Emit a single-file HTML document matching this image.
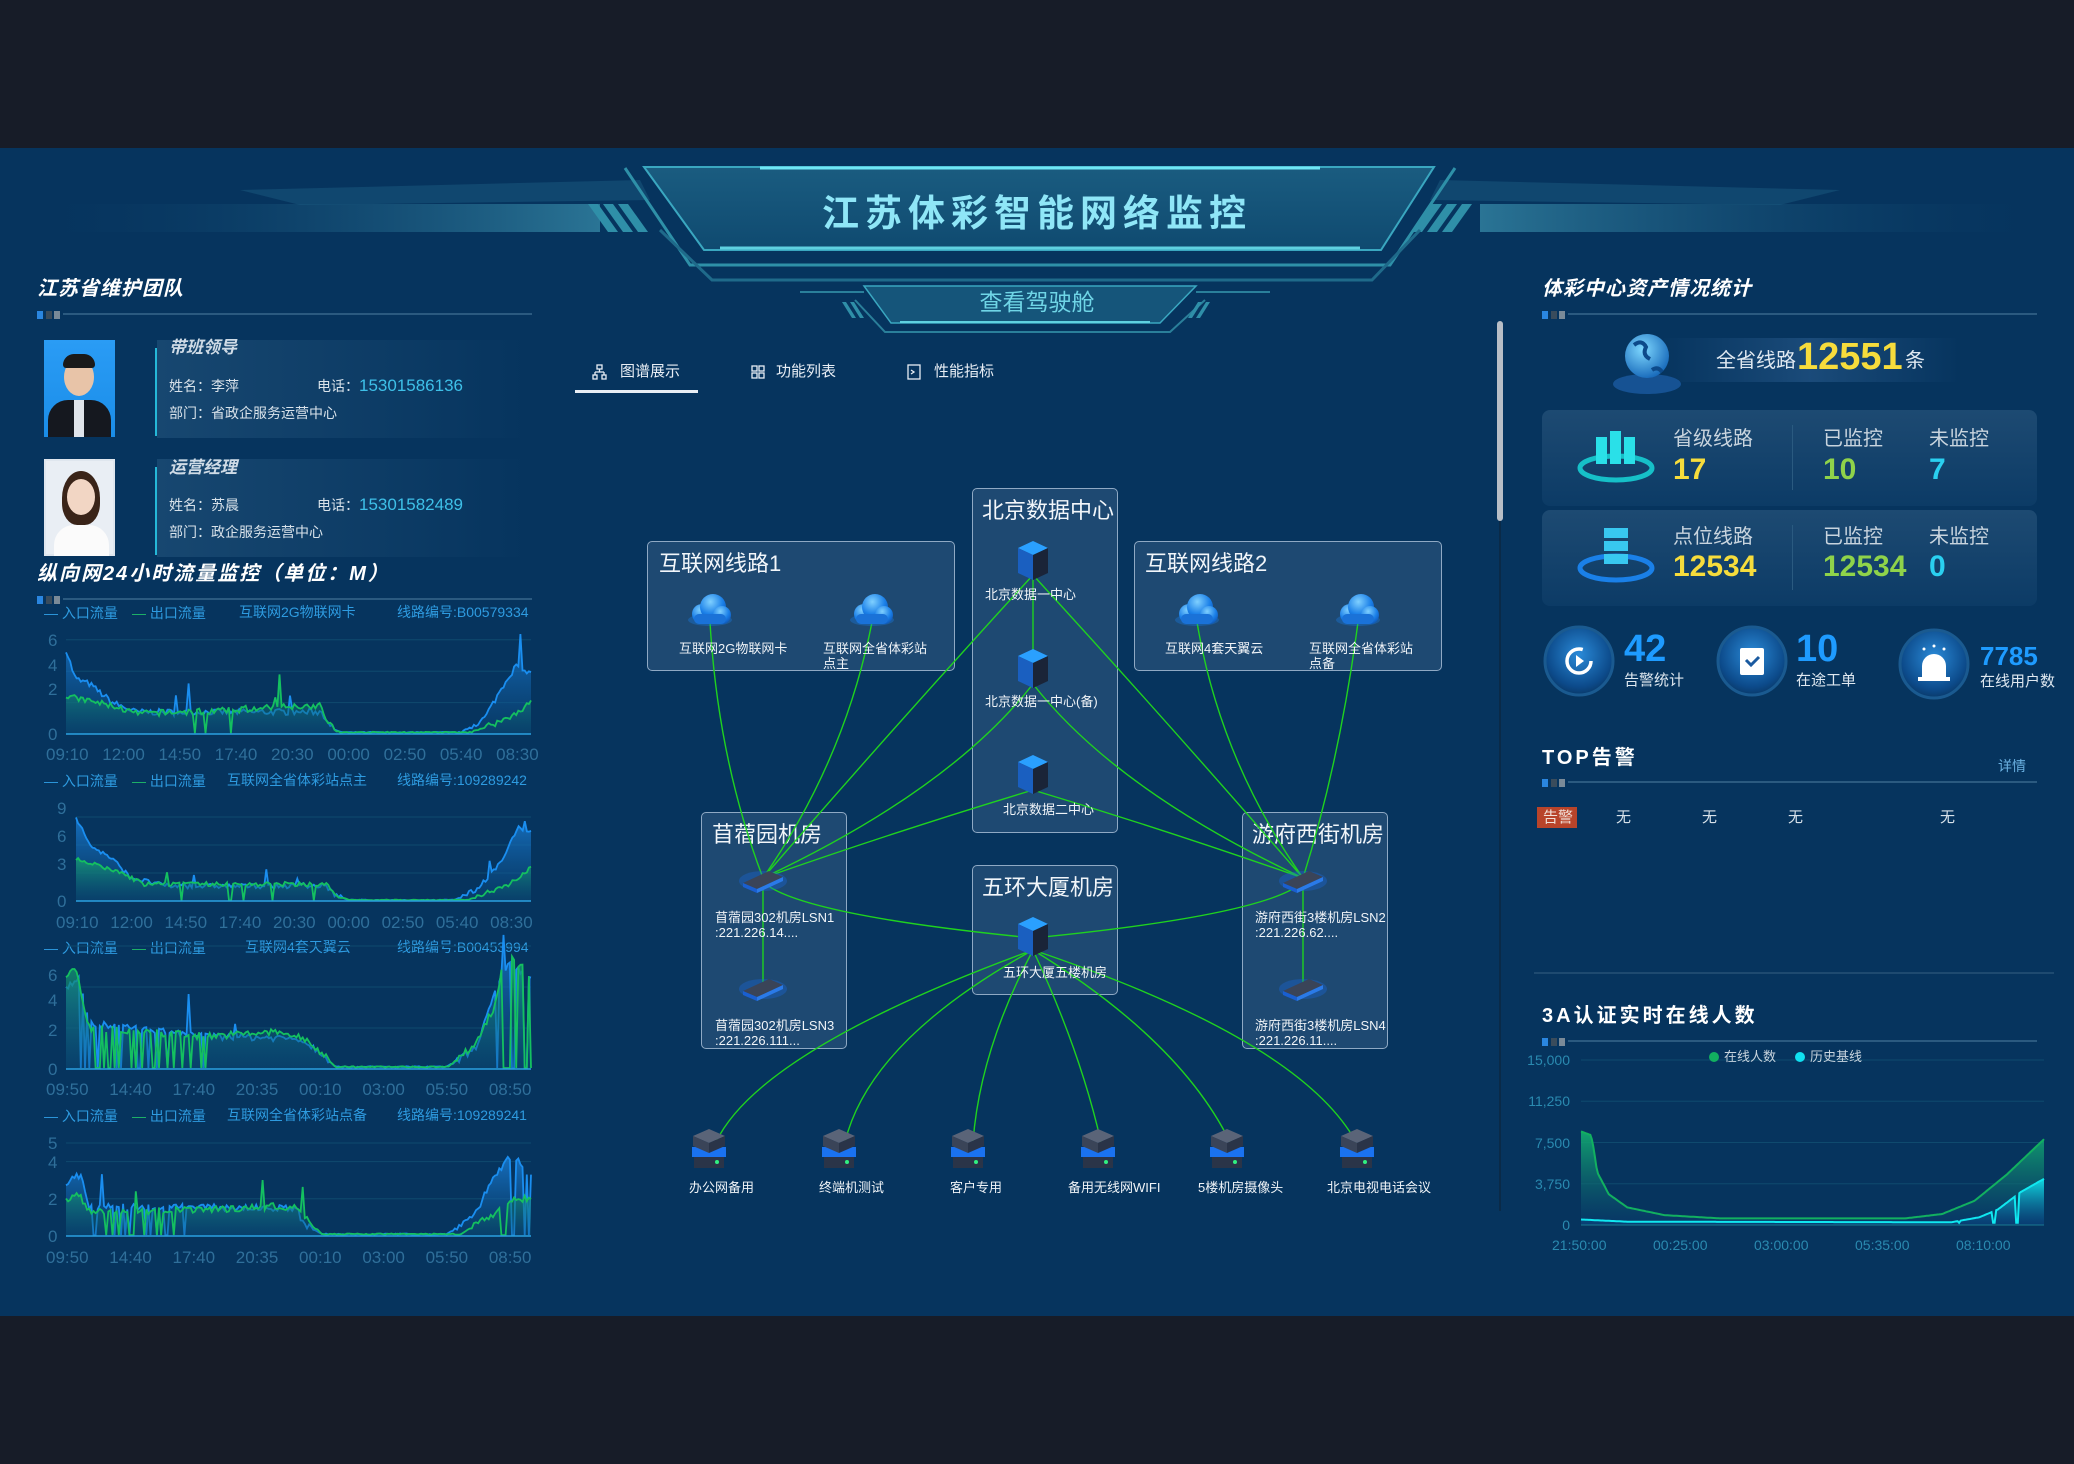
<!DOCTYPE html>
<html><head><meta charset="utf-8">
<style>
*{margin:0;padding:0;box-sizing:border-box}
body{width:2074px;height:1464px;background:#171c28;overflow:hidden;position:relative;font-family:"Liberation Sans","Noto Sans CJK SC",sans-serif;color:#e8eef5}
#main{position:absolute;left:0;top:148px;width:2074px;height:1168px;background:#06345e}
.t{position:absolute;white-space:nowrap;line-height:1}
.h{font-weight:bold;font-size:20px;color:#fff;font-style:italic;letter-spacing:1px}
.bar{position:absolute;height:12px}
.bar .ln{position:absolute;left:26px;right:0;top:4px;height:2px;background:#2b5a80}
.bar .d{position:absolute;top:2px;width:6px;height:8px}
.box{position:absolute;border:1.5px solid #8fa9c4;border-radius:5px;background:rgba(60,100,140,0.45)}
.bt{position:absolute;font-size:22px;color:#f2f6fa;white-space:nowrap}
.nl{position:absolute;font-size:13px;color:#f0f4f8;white-space:nowrap;line-height:15px}
.card{position:absolute;left:1542px;width:495px;height:96px;border-radius:8px;background:linear-gradient(180deg,#1d4a72,#0c3b66);}
.lg{position:absolute;font-size:14px;color:#2e9be0;white-space:nowrap;line-height:1}
.ax{position:absolute;font-size:17px;color:#2f6f9a;white-space:nowrap;line-height:1}
</style></head><body>
<div id="main"></div>
<svg width="2074" height="1464" style="position:absolute;left:0;top:0">
<defs>
<linearGradient id="hb" x1="0" y1="0" x2="0" y2="1"><stop offset="0" stop-color="#1a5c80"/><stop offset="1" stop-color="#0f4a70"/></linearGradient>
<linearGradient id="sideL" x1="0" y1="0" x2="1" y2="0"><stop offset="0" stop-color="#0a3c66" stop-opacity="0"/><stop offset="1" stop-color="#2a7495"/></linearGradient>
<linearGradient id="sideR" x1="1" y1="0" x2="0" y2="0"><stop offset="0" stop-color="#0a3c66" stop-opacity="0"/><stop offset="1" stop-color="#2a7495"/></linearGradient>
</defs>
<rect x="40" y="204" width="560" height="28" fill="url(#sideL)"/>
<rect x="1480" y="204" width="560" height="28" fill="url(#sideR)"/>
<polygon points="240,190 640,180 650,200 300,205" fill="#1a5a80" opacity="0.5"/>
<polygon points="1440,180 1840,190 1780,205 1430,200" fill="#1a5a80" opacity="0.5"/>
<g fill="#2f8fa8">
<polygon points="588,204 598,204 618,232 608,232"/><polygon points="603,204 613,204 633,232 623,232"/><polygon points="618,204 628,204 648,232 638,232"/>
<polygon points="1432,204 1442,204 1422,232 1412,232"/><polygon points="1447,204 1457,204 1437,232 1427,232"/><polygon points="1462,204 1472,204 1452,232 1442,232"/>
</g>
<polygon points="644,167 1434,167 1381,250 704,250" fill="url(#hb)" stroke="#3aa7c0" stroke-width="2"/>
<line x1="760" y1="168" x2="1320" y2="168" stroke="#6fe6f5" stroke-width="3"/>
<line x1="720" y1="248" x2="1360" y2="248" stroke="#5fd0e0" stroke-width="3"/>
<polyline points="625,168 690,265 1390,265 1455,168" fill="none" stroke="#2e90a8" stroke-width="3"/>
<polyline points="660,230 712,280 1372,280 1420,230" fill="none" stroke="#1f6a8a" stroke-width="3"/>
<polygon points="864,286 1196,286 1160,323 891,323" fill="#15557a" stroke="#3aa7c0" stroke-width="1.5"/>
<line x1="900" y1="322" x2="1150" y2="322" stroke="#5fd0e0" stroke-width="2"/>
<polyline points="855,300 885,332 1170,332 1205,300" fill="none" stroke="#2a7f9a" stroke-width="2"/>
<line x1="800" y1="292" x2="864" y2="292" stroke="#2a7f9a" stroke-width="2"/>
<line x1="1196" y1="292" x2="1270" y2="292" stroke="#2a7f9a" stroke-width="2"/>
<g fill="#2f8fa8"><polygon points="842,302 846,302 856,318 852,318"/><polygon points="850,302 854,302 864,318 860,318"/><polygon points="1198,302 1202,302 1192,318 1188,318"/><polygon points="1206,302 1210,302 1200,318 1196,318"/></g>
</svg>
<div class="t" style="left:0;width:2074px;top:195px;text-align:center;font-size:37px;color:#8fe6f7;letter-spacing:6px;font-weight:bold">江苏体彩智能网络监控</div>
<div class="t" style="left:0;width:2074px;top:291px;text-align:center;font-size:23px;color:#6fd5e6">查看驾驶舱</div>

<div class="t h" style="left:37px;top:279px">江苏省维护团队</div>
<div class="bar" style="left:37px;top:309px;width:495px"><div class="d" style="left:0;background:#2a86e0"></div><div class="d" style="left:9px;background:#3a4c5c"></div><div class="d" style="left:17px;background:#7a8a98"></div><div class="ln"></div></div>
<div style="position:absolute;left:44px;top:340px;width:71px;height:97px;background:linear-gradient(#2a9cf5,#1a8de8)">
 <div style="position:absolute;left:20px;top:18px;width:30px;height:38px;border-radius:50%;background:#e8c4a8"></div>
 <div style="position:absolute;left:19px;top:14px;width:32px;height:14px;border-radius:14px 14px 4px 4px;background:#1a1a1a"></div>
 <div style="position:absolute;left:4px;top:60px;width:63px;height:37px;border-radius:20px 20px 0 0;background:#15181f"></div>
 <div style="position:absolute;left:30px;top:60px;width:10px;height:37px;background:#e0e4ea"></div>
</div>
<div style="position:absolute;left:44px;top:459px;width:71px;height:97px;background:#e9eef4;border:2px solid #dfe6ee">
 <div style="position:absolute;left:16px;top:10px;width:38px;height:54px;border-radius:50% 50% 40% 40%;background:#3a2418"></div>
 <div style="position:absolute;left:21px;top:18px;width:28px;height:36px;border-radius:50%;background:#f2d6c4"></div>
 <div style="position:absolute;left:8px;top:64px;width:55px;height:31px;border-radius:20px 20px 0 0;background:#fbfbfb"></div>
</div>
<div style="position:absolute;left:155px;top:348px;width:2px;height:88px;background:#25b8d8"></div>
<div style="position:absolute;left:157px;top:340px;width:375px;height:98px;background:linear-gradient(90deg,rgba(40,90,130,0.5),rgba(40,90,130,0))"></div>
<div style="position:absolute;left:155px;top:467px;width:2px;height:88px;background:#25b8d8"></div>
<div style="position:absolute;left:157px;top:459px;width:375px;height:98px;background:linear-gradient(90deg,rgba(40,90,130,0.5),rgba(40,90,130,0))"></div>
<div class="t" style="left:169px;top:339px;font-size:17px;font-weight:bold;font-style:italic;color:#cfdbe6">带班领导</div>
<div class="t" style="left:169px;top:379px;font-size:14px;color:#d8e2ea">姓名：李萍</div>
<div class="t" style="left:317px;top:377px;font-size:14px;color:#d8e2ea">电话：<span style="font-size:17px;color:#3ec0e8">15301586136</span></div>
<div class="t" style="left:169px;top:406px;font-size:14px;color:#d8e2ea">部门：省政企服务运营中心</div>
<div class="t" style="left:169px;top:459px;font-size:17px;font-weight:bold;font-style:italic;color:#cfdbe6">运营经理</div>
<div class="t" style="left:169px;top:498px;font-size:14px;color:#d8e2ea">姓名：苏晨</div>
<div class="t" style="left:317px;top:496px;font-size:14px;color:#d8e2ea">电话：<span style="font-size:17px;color:#3ec0e8">15301582489</span></div>
<div class="t" style="left:169px;top:525px;font-size:14px;color:#d8e2ea">部门：政企服务运营中心</div>
<div class="t h" style="left:37px;top:564px;letter-spacing:2px">纵向网24小时流量监控（单位：M）</div>
<div class="bar" style="left:37px;top:594px;width:495px"><div class="d" style="left:0;background:#2a86e0"></div><div class="d" style="left:9px;background:#3a4c5c"></div><div class="d" style="left:17px;background:#7a8a98"></div><div class="ln"></div></div>

<div class="lg" style="left:44px;top:606px">— 入口流量</div><div class="lg" style="left:132px;top:606px;color:#1fb868">— <span style="color:#2e9be0">出口流量</span></div><div class="lg" style="left:239px;top:605px">互联网2G物联网卡</div><div class="lg" style="left:397px;top:605px">线路编号:B00579334</div>
<div class="lg" style="left:44px;top:774px">— 入口流量</div><div class="lg" style="left:132px;top:774px;color:#1fb868">— <span style="color:#2e9be0">出口流量</span></div><div class="lg" style="left:227px;top:773px">互联网全省体彩站点主</div><div class="lg" style="left:397px;top:773px">线路编号:109289242</div>
<div class="lg" style="left:44px;top:941px">— 入口流量</div><div class="lg" style="left:132px;top:941px;color:#1fb868">— <span style="color:#2e9be0">出口流量</span></div><div class="lg" style="left:245px;top:940px">互联网4套天翼云</div><div class="lg" style="left:397px;top:940px">线路编号:B00453994</div>
<div class="lg" style="left:44px;top:1109px">— 入口流量</div><div class="lg" style="left:132px;top:1109px;color:#1fb868">— <span style="color:#2e9be0">出口流量</span></div><div class="lg" style="left:227px;top:1108px">互联网全省体彩站点备</div><div class="lg" style="left:397px;top:1108px">线路编号:109289241</div>

<div class="ax" style="left:48px;top:632px">6</div><div class="ax" style="left:48px;top:657px">4</div><div class="ax" style="left:48px;top:681px">2</div><div class="ax" style="left:48px;top:726px">0</div>
<div class="ax" style="left:57px;top:800px">9</div><div class="ax" style="left:57px;top:828px">6</div><div class="ax" style="left:57px;top:856px">3</div><div class="ax" style="left:57px;top:893px">0</div>
<div class="ax" style="left:48px;top:967px">6</div><div class="ax" style="left:48px;top:992px">4</div><div class="ax" style="left:48px;top:1022px">2</div><div class="ax" style="left:48px;top:1061px">0</div>
<div class="ax" style="left:48px;top:1135px">5</div><div class="ax" style="left:48px;top:1154px">4</div><div class="ax" style="left:48px;top:1191px">2</div><div class="ax" style="left:48px;top:1228px">0</div>
<div class="ax" style="left:46px;top:746px;word-spacing:9px">09:10 12:00 14:50 17:40 20:30 00:00 02:50 05:40 08:30</div>
<div class="ax" style="left:56px;top:914px;word-spacing:7px">09:10 12:00 14:50 17:40 20:30 00:00 02:50 05:40 08:30</div>
<div class="ax" style="left:46px;top:1081px;word-spacing:16px">09:50 14:40 17:40 20:35 00:10 03:00 05:50 08:50</div>
<div class="ax" style="left:46px;top:1249px;word-spacing:16px">09:50 14:40 17:40 20:35 00:10 03:00 05:50 08:50</div>

<svg id="charts" width="2074" height="1464" style="position:absolute;left:0;top:0">
<defs>
<linearGradient id="gb" x1="0" y1="0" x2="0" y2="1"><stop offset="0" stop-color="#1a7fd8" stop-opacity="0.8"/><stop offset="1" stop-color="#0b4a80" stop-opacity="0.3"/></linearGradient>
<linearGradient id="gg" x1="0" y1="0" x2="0" y2="1"><stop offset="0" stop-color="#16a070" stop-opacity="0.8"/><stop offset="1" stop-color="#0a4a70" stop-opacity="0.3"/></linearGradient>
<linearGradient id="rg" x1="0" y1="0" x2="0" y2="1"><stop offset="0" stop-color="#12b070" stop-opacity="0.9"/><stop offset="1" stop-color="#0a3a70" stop-opacity="0.4"/></linearGradient>
<linearGradient id="rc" x1="0" y1="0" x2="0" y2="1"><stop offset="0" stop-color="#10e8f0" stop-opacity="0.9"/><stop offset="1" stop-color="#0a4a90" stop-opacity="0.3"/></linearGradient>
</defs>
</svg>

<svg width="2074" height="1464" style="position:absolute;left:0;top:0">
<g fill="none" stroke="#e8eef5" stroke-width="1.3">
<rect x="597" y="365" width="5" height="4"/><rect x="593" y="375" width="4" height="4"/><rect x="602" y="375" width="4" height="4"/><path d="M599.5 369v3M595 372h9M595 372v3M604 372v3"/>
<rect x="752" y="366" width="5" height="5"/><rect x="759" y="366" width="5" height="5"/><rect x="752" y="373" width="5" height="5"/><rect x="759" y="373" width="5" height="5"/>
<rect x="908" y="365" width="12" height="14"/><path d="M911 370l3 2-3 2"/>
</g>
<rect x="575" y="390" width="123" height="3" fill="#e8eef5"/>
<rect x="1497" y="321" width="6" height="200" rx="3" fill="#b8bec6"/>
<rect x="1499" y="521" width="2" height="690" fill="#0a2a48"/>
</svg>
<div class="t" style="left:620px;top:364px;font-size:15px">图谱展示</div>
<div class="t" style="left:776px;top:364px;font-size:15px">功能列表</div>
<div class="t" style="left:934px;top:364px;font-size:15px">性能指标</div>

<div class="box" style="left:647px;top:541px;width:308px;height:130px"></div>
<div class="box" style="left:972px;top:488px;width:146px;height:345px"></div>
<div class="box" style="left:1134px;top:541px;width:308px;height:130px"></div>
<div class="box" style="left:701px;top:812px;width:146px;height:237px"></div>
<div class="box" style="left:972px;top:865px;width:146px;height:130px"></div>
<div class="box" style="left:1242px;top:812px;width:146px;height:237px"></div>
<div class="bt" style="left:659px;top:546px">互联网线路1</div>
<div class="bt" style="left:982px;top:493px">北京数据中心</div>
<div class="bt" style="left:1145px;top:546px">互联网线路2</div>
<div class="bt" style="left:712px;top:817px">苜蓿园机房</div>
<div class="bt" style="left:982px;top:870px">五环大厦机房</div>
<div class="bt" style="left:1252px;top:817px">游府西街机房</div>

<svg id="net" width="2074" height="1464" style="position:absolute;left:0;top:0">
<defs>
<radialGradient id="cl" cx="0.4" cy="0.3" r="0.8"><stop offset="0" stop-color="#7fd0ff"/><stop offset="0.6" stop-color="#1a7fe8"/><stop offset="1" stop-color="#0c4fb0"/></radialGradient>
</defs>
<g fill="none" stroke="#1fd21f" stroke-width="1.4">
<path d="M710 622 Q718 760 763 878"/>
<path d="M872 622 Q845 760 763 878"/>
<path d="M1033 575 Q900 720 763 878"/>
<path d="M1033 575 Q1166 720 1303 878"/>
<path d="M1033 575 L1033 660"/>
<path d="M1033 684 Q950 790 763 878"/>
<path d="M1033 684 Q1116 790 1303 878"/>
<path d="M1033 790 Q900 830 763 878"/>
<path d="M1033 790 Q1166 830 1303 878"/>
<path d="M1197 622 Q1220 760 1303 878"/>
<path d="M1358 622 Q1340 760 1303 878"/>
<path d="M763 882 L763 985"/>
<path d="M1303 882 L1303 985"/>
<path d="M763 882 Q800 915 1033 938"/>
<path d="M1303 882 Q1266 915 1033 938"/>
<path d="M1033 950 Q760 1050 716 1142"/>
<path d="M1033 950 Q870 1040 845 1142"/>
<path d="M1033 950 Q980 1050 973 1142"/>
<path d="M1033 950 Q1080 1050 1101 1142"/>
<path d="M1033 950 Q1180 1040 1230 1142"/>
<path d="M1033 950 Q1300 1040 1356 1142"/>
</g>
<g id="icons"></g>
</svg>
<div class="nl" style="left:679px;top:641px">互联网2G物联网卡</div>
<div class="nl" style="left:823px;top:641px">互联网全省体彩站<br>点主</div>
<div class="nl" style="left:1165px;top:641px">互联网4套天翼云</div>
<div class="nl" style="left:1309px;top:641px">互联网全省体彩站<br>点备</div>
<div class="nl" style="left:985px;top:587px">北京数据一中心</div>
<div class="nl" style="left:985px;top:694px">北京数据一中心(备)</div>
<div class="nl" style="left:1003px;top:802px">北京数据二中心</div>
<div class="nl" style="left:715px;top:910px">苜蓿园302机房LSN1<br>:221.226.14....</div>
<div class="nl" style="left:715px;top:1018px">苜蓿园302机房LSN3<br>:221.226.111...</div>
<div class="nl" style="left:1255px;top:910px">游府西街3楼机房LSN2<br>:221.226.62....</div>
<div class="nl" style="left:1255px;top:1018px">游府西街3楼机房LSN4<br>:221.226.11....</div>
<div class="nl" style="left:1003px;top:965px">五环大厦五楼机房</div>
<div class="nl" style="left:689px;top:1180px">办公网备用</div>
<div class="nl" style="left:819px;top:1180px">终端机测试</div>
<div class="nl" style="left:950px;top:1180px">客户专用</div>
<div class="nl" style="left:1068px;top:1180px">备用无线网WIFI</div>
<div class="nl" style="left:1198px;top:1180px">5楼机房摄像头</div>
<div class="nl" style="left:1327px;top:1180px">北京电视电话会议</div>

<div class="t h" style="left:1542px;top:279px">体彩中心资产情况统计</div>
<div class="bar" style="left:1542px;top:309px;width:495px"><div class="d" style="left:0;background:#2a86e0"></div><div class="d" style="left:9px;background:#3a4c5c"></div><div class="d" style="left:17px;background:#7a8a98"></div><div class="ln"></div></div>
<div style="position:absolute;left:1660px;top:338px;width:300px;height:44px;background:linear-gradient(90deg,rgba(40,90,140,0),rgba(40,90,140,0.6),rgba(40,90,140,0))"></div>
<div class="t" style="left:1716px;top:351px;font-size:20px;color:#dfe8f0">全省线路</div>
<div class="t" style="left:1797px;top:338px;font-size:38px;color:#f6dc3c;font-weight:bold">12551</div>
<div class="t" style="left:1905px;top:351px;font-size:20px;color:#dfe8f0">条</div>
<div class="card" style="top:410px"></div>
<div class="card" style="top:510px"></div>
<div style="position:absolute;left:1792px;top:425px;width:1px;height:65px;background:#2a5a80"></div>
<div style="position:absolute;left:1792px;top:525px;width:1px;height:65px;background:#2a5a80"></div>
<div class="t" style="left:1673px;top:429px;font-size:20px;color:#c8d4de">省级线路</div>
<div class="t" style="left:1823px;top:429px;font-size:20px;color:#c8d4de">已监控</div>
<div class="t" style="left:1929px;top:429px;font-size:20px;color:#c8d4de">未监控</div>
<div class="t" style="left:1673px;top:455px;font-size:30px;color:#f6dc3c;font-weight:bold">17</div>
<div class="t" style="left:1823px;top:455px;font-size:30px;color:#8fd34a;font-weight:bold">10</div>
<div class="t" style="left:1929px;top:455px;font-size:30px;color:#2ad0f0;font-weight:bold">7</div>
<div class="t" style="left:1673px;top:527px;font-size:20px;color:#c8d4de">点位线路</div>
<div class="t" style="left:1823px;top:527px;font-size:20px;color:#c8d4de">已监控</div>
<div class="t" style="left:1929px;top:527px;font-size:20px;color:#c8d4de">未监控</div>
<div class="t" style="left:1673px;top:552px;font-size:30px;color:#f6dc3c;font-weight:bold">12534</div>
<div class="t" style="left:1823px;top:552px;font-size:30px;color:#8fd34a;font-weight:bold">12534</div>
<div class="t" style="left:1929px;top:552px;font-size:30px;color:#2ad0f0;font-weight:bold">0</div>
<svg width="2074" height="1464" style="position:absolute;left:0;top:0">
<defs>
<radialGradient id="gl" cx="0.4" cy="0.35" r="0.7"><stop offset="0" stop-color="#7fd8ff"/><stop offset="1" stop-color="#1466b8"/></radialGradient>
<radialGradient id="ci" cx="0.5" cy="0.4" r="0.6"><stop offset="0" stop-color="#2a8ad8"/><stop offset="0.8" stop-color="#0c4a8a"/><stop offset="1" stop-color="#0a3a6a"/></radialGradient>
</defs>
<ellipse cx="1647" cy="384" rx="34" ry="10" fill="#1a5aa0" opacity="0.8"/>
<circle cx="1647" cy="356" r="22" fill="url(#gl)"/>
<path d="M1634 345q8-6 12 2q-4 8 4 12M1652 370q6-4 10 2" stroke="#0d4a8a" stroke-width="4" fill="none"/>
<ellipse cx="1616" cy="468" rx="36" ry="12" fill="none" stroke="#16c0c8" stroke-width="5"/>
<g fill="#2ae0e8"><rect x="1596" y="437" width="11" height="27"/><rect x="1610" y="431" width="11" height="33"/><rect x="1624" y="437" width="11" height="27"/></g>
<ellipse cx="1616" cy="568" rx="36" ry="12" fill="none" stroke="#1a80e8" stroke-width="5"/>
<g fill="#38c8f0"><rect x="1604" y="528" width="24" height="10"/><rect x="1604" y="541" width="24" height="10"/><rect x="1604" y="554" width="24" height="10"/></g>
<circle cx="1579" cy="661" r="34" fill="url(#ci)" stroke="#1a5a90" stroke-width="3"/>
<circle cx="1579" cy="661" r="12" fill="none" stroke="#fff" stroke-width="3.5" stroke-dasharray="60 16"/><path d="M1576 655l8 6-8 6z" fill="#fff"/>
<circle cx="1752" cy="661" r="34" fill="url(#ci)" stroke="#1a5a90" stroke-width="3"/>
<rect x="1740" y="648" width="24" height="27" rx="2" fill="#fff"/><path d="M1746 660l5 5 8-8" stroke="#1a5aa0" stroke-width="3" fill="none"/>
<circle cx="1934" cy="664" r="34" fill="url(#ci)" stroke="#1a5a90" stroke-width="3"/>
<path d="M1922 678v-12a12 12 0 0 1 24 0v12z" fill="#fff"/><rect x="1918" y="677" width="32" height="4" fill="#fff"/>
<g fill="#fff"><circle cx="1934" cy="646" r="1.5"/><circle cx="1924" cy="649" r="1.5"/><circle cx="1944" cy="649" r="1.5"/></g>
<rect x="1537" y="807" width="40" height="21" fill="#b8442a"/>
<rect x="1534" y="972" width="520" height="2" fill="#1e4a70"/>
</svg>
<div class="t" style="left:1624px;top:630px;font-size:38px;color:#1e9bff;font-weight:bold">42</div>
<div class="t" style="left:1624px;top:673px;font-size:15px;color:#dfe8f0">告警统计</div>
<div class="t" style="left:1796px;top:630px;font-size:38px;color:#1e9bff;font-weight:bold">10</div>
<div class="t" style="left:1796px;top:673px;font-size:15px;color:#dfe8f0">在途工单</div>
<div class="t" style="left:1980px;top:643px;font-size:26px;color:#1e9bff;font-weight:bold">7785</div>
<div class="t" style="left:1980px;top:674px;font-size:15px;color:#dfe8f0">在线用户数</div>
<div class="t h" style="left:1542px;top:748px;font-style:normal;letter-spacing:3px">TOP告警</div>
<div class="t" style="left:1998px;top:759px;font-size:14px;color:#6ab0e0">详情</div>
<div class="bar" style="left:1542px;top:777px;width:495px"><div class="d" style="left:0;background:#2a86e0"></div><div class="d" style="left:9px;background:#3a4c5c"></div><div class="d" style="left:17px;background:#7a8a98"></div><div class="ln"></div></div>
<div class="t" style="left:1543px;top:810px;font-size:15px;color:#f0e0d8">告警</div>
<div class="t" style="left:1616px;top:810px;font-size:15px;color:#d8e2ea">无</div>
<div class="t" style="left:1702px;top:810px;font-size:15px;color:#d8e2ea">无</div>
<div class="t" style="left:1788px;top:810px;font-size:15px;color:#d8e2ea">无</div>
<div class="t" style="left:1940px;top:810px;font-size:15px;color:#d8e2ea">无</div>
<div class="t h" style="left:1542px;top:1006px;font-style:normal;letter-spacing:3px">3A认证实时在线人数</div>
<div class="bar" style="left:1542px;top:1036px;width:495px"><div class="d" style="left:0;background:#2a86e0"></div><div class="d" style="left:9px;background:#3a4c5c"></div><div class="d" style="left:17px;background:#7a8a98"></div><div class="ln"></div></div>
<div style="position:absolute;left:1709px;top:1052px;width:10px;height:10px;border-radius:50%;background:#12b060"></div>
<div class="t" style="left:1724px;top:1050px;font-size:13px;color:#c8d4de">在线人数</div>
<div style="position:absolute;left:1795px;top:1052px;width:10px;height:10px;border-radius:50%;background:#10e0f0"></div>
<div class="t" style="left:1810px;top:1050px;font-size:13px;color:#c8d4de">历史基线</div>
<div class="t" style="left:1520px;top:1053px;width:50px;text-align:right;font-size:14px;color:#2a8ab0">15,000</div>
<div class="t" style="left:1520px;top:1094px;width:50px;text-align:right;font-size:14px;color:#2a8ab0">11,250</div>
<div class="t" style="left:1520px;top:1136px;width:50px;text-align:right;font-size:14px;color:#2a8ab0">7,500</div>
<div class="t" style="left:1520px;top:1177px;width:50px;text-align:right;font-size:14px;color:#2a8ab0">3,750</div>
<div class="t" style="left:1520px;top:1218px;width:50px;text-align:right;font-size:14px;color:#2a8ab0">0</div>
<div class="t" style="left:1552px;top:1238px;font-size:14px;color:#2a8ab0">21:50:00</div>
<div class="t" style="left:1653px;top:1238px;font-size:14px;color:#2a8ab0">00:25:00</div>
<div class="t" style="left:1754px;top:1238px;font-size:14px;color:#2a8ab0">03:00:00</div>
<div class="t" style="left:1855px;top:1238px;font-size:14px;color:#2a8ab0">05:35:00</div>
<div class="t" style="left:1956px;top:1238px;font-size:14px;color:#2a8ab0">08:10:00</div>

<script>
var NS="http://www.w3.org/2000/svg";
function el(p,t,a){var e=document.createElementNS(NS,t);for(var k in a)e.setAttribute(k,a[k]);p.appendChild(e);return e;}
var seed=7;function rnd(){seed=(seed*16807)%2147483647;return seed/2147483647;}
function interp(keys,t){for(var i=1;i<keys.length;i++){if(t<=keys[i][0]){var a=keys[i-1],b=keys[i];var f=(t-a[0])/(b[0]-a[0]||1);return a[1]+(b[1]-a[1])*f;}}return keys[keys.length-1][1];}
var C=document.getElementById('charts');
function chart(x0,x1,y0,ppu,grid,blue,green,noise,drops,dp){
  grid.forEach(function(g){el(C,'line',{x1:x0,x2:x1,y1:y0-g*ppu,y2:y0-g*ppu,stroke:'#0f4a6e','stroke-width':1});});
  var N=220;
  [[blue,'#1a8ef0','url(#gb)'],[green,'#14c060','url(#gg)']].forEach(function(s,si){
    var pts=[];
    for(var i=0;i<=N;i++){var t=i/N;var v=interp(s[0],t);v+= (rnd()-0.5)*noise*(v>0.4?1:0.2);
      if(rnd()<0.02&&v>0.8)v+=rnd()*2;
      if(drops){drops.forEach(function(d){if(t>=d[0]&&t<=d[1]&&rnd()<dp)v=0;});}
      if(!drops&&si==1&&rnd()<0.015&&t<0.6)v=0;
      if(v<0.05)v=0.05;pts.push([x0+(x1-x0)*t,y0-v*ppu]);}
    var d='M'+pts.map(function(p){return p[0].toFixed(1)+' '+p[1].toFixed(1)}).join('L');
    el(C,'path',{d:d+'L'+x1+' '+y0+'L'+x0+' '+y0+'Z',fill:s[2],stroke:'none'});
    el(C,'path',{d:d,fill:'none',stroke:s[1],'stroke-width':1.8});
  });
  el(C,'line',{x1:x0,x2:x1,y1:y0,y2:y0,stroke:'#2aa0e0','stroke-width':1.5});
}
var b1=[[0,5.4],[0.02,3.5],[0.05,3.2],[0.1,2],[0.15,1.4],[0.55,1.4],[0.56,0.9],[0.58,0.2],[0.6,0.1],[0.85,0.1],[0.9,1],[0.95,3.6],[0.97,4.4],[1,3.8]];
var g1=[[0,2.4],[0.1,1.8],[0.15,1.3],[0.35,1.5],[0.5,1.8],[0.55,1.8],[0.56,0.8],[0.58,0.2],[0.6,0.1],[0.87,0.1],[0.95,1],[1,2]];
chart(66,531,734,15.7,[6,4,2],b1,g1,0.4);
var b2=[[0,9],[0.03,6],[0.08,4.5],[0.12,2.5],[0.2,1.6],[0.55,1.6],[0.57,0.6],[0.6,0.1],[0.83,0.1],[0.88,1.2],[0.94,4.5],[0.97,7.8],[1,7.5]];
var g2=[[0,4.5],[0.1,3],[0.15,1.8],[0.55,1.8],[0.57,0.6],[0.6,0.1],[0.86,0.1],[0.95,1.8],[1,3.5]];
chart(76,531,901,9.33,[9,6,3],b2,g2,0.5);
var b3=[[0,4],[0.03,4.5],[0.05,2.2],[0.3,1.6],[0.5,1.5],[0.55,0.8],[0.58,0.1],[0.82,0.1],[0.88,1],[0.92,3.5],[0.95,5.2],[1,4.4]];
var g3=[[0,4.5],[0.02,5],[0.05,2],[0.3,1.6],[0.45,1.8],[0.5,1.6],[0.55,0.8],[0.58,0.1],[0.82,0.1],[0.88,1.2],[0.92,3],[0.95,5.5],[1,4.6]];
chart(66,531,1069,20.5,[6,4,2],b3,g3,0.35,[[0.02,0.3],[0.92,1]],0.25);
var b4=[[0,2.8],[0.03,3.3],[0.05,1.6],[0.45,1.5],[0.5,1.5],[0.5,0.8],[0.55,0.1],[0.82,0.1],[0.88,1.2],[0.92,3.2],[0.96,4.4],[1,3.2]];
var g4=[[0,2],[0.03,2.2],[0.05,1.3],[0.3,1.4],[0.45,1.6],[0.5,1.5],[0.55,0.1],[0.85,0.1],[0.92,1.2],[0.97,2],[1,2]];
chart(66,531,1236,18.6,[5,4,2],b4,g4,0.35,[[0.03,0.28],[0.93,1]],0.25);
(function(){
 var x0=1581,x1=2044,y0=1225,pp=165/15000;
 [15000,11250,7500,3750].forEach(function(g){el(C,'line',{x1:x0,x2:x1,y1:y0-g*pp,y2:y0-g*pp,stroke:'#0f4a6e','stroke-width':1});});
 var gk=[[0,8500],[0.02,8200],[0.025,7600],[0.035,4800],[0.06,2800],[0.1,1600],[0.18,900],[0.3,600],[0.7,600],[0.78,1000],[0.85,2200],[0.92,4600],[1,7800]];
 var ck=[[0,500],[0.1,300],[0.8,250],[0.86,700],[0.9,1400],[0.95,3000],[1,4200]];
 [[gk,'#12b060','url(#rg)',[]],[ck,'#10e8f0','url(#rc)',[[0.888,0.895],[0.937,0.944],[0.814,0.818]]]].forEach(function(s){
  var pts=[];for(var i=0;i<=300;i++){var t=i/300;var v=interp(s[0],t);s[3].forEach(function(d){if(t>=d[0]&&t<=d[1])v=200;});pts.push([x0+(x1-x0)*t,y0-v*pp]);}
  var d='M'+pts.map(function(p){return p[0].toFixed(1)+' '+p[1].toFixed(1)}).join('L');
  el(C,'path',{d:d+'L'+x1+' '+y0+'L'+x0+' '+y0+'Z',fill:s[2]});
  el(C,'path',{d:d,fill:'none',stroke:s[1],'stroke-width':2});
 });
 el(C,'line',{x1:x0,x2:x1,y1:y0,y2:y0,stroke:'#1a7a90','stroke-width':1});
})();
var I=document.getElementById('icons');
function cloud(x,y){el(I,'ellipse',{cx:x,cy:y+8,rx:22,ry:6,fill:'#1a7fe8',opacity:0.35});
 el(I,'circle',{cx:x-8,cy:y+2,r:10,fill:'url(#cl)'});el(I,'circle',{cx:x+3,cy:y-5,r:13,fill:'url(#cl)'});el(I,'circle',{cx:x+12,cy:y+3,r:9,fill:'url(#cl)'});el(I,'rect',{x:x-16,y:y+2,width:32,height:10,rx:5,fill:'#1a72d8'});}
function server(x,y){el(I,'polygon',{points:(x-15)+','+(y-12)+' '+x+','+(y-19)+' '+(x+15)+','+(y-12)+' '+x+','+(y-5),fill:'#2aa0ff'});
 el(I,'polygon',{points:(x-15)+','+(y-12)+' '+x+','+(y-5)+' '+x+','+(y+20)+' '+(x-15)+','+(y+13),fill:'#1a5fc0'});
 el(I,'polygon',{points:x+','+(y-5)+' '+(x+15)+','+(y-12)+' '+(x+15)+','+(y+13)+' '+x+','+(y+20),fill:'#1a2438'});}
function sw(x,y){el(I,'ellipse',{cx:x,cy:y,rx:24,ry:10,fill:'#1a6ae0',opacity:0.35});
 el(I,'polygon',{points:(x-20)+','+(y+2)+' '+(x+6)+','+(y-10)+' '+(x+20)+','+(y-4)+' '+(x-6)+','+(y+8),fill:'#3a4458'});
 el(I,'polygon',{points:(x-20)+','+(y+2)+' '+(x-6)+','+(y+8)+' '+(x-6)+','+(y+12)+' '+(x-20)+','+(y+6),fill:'#1a5fd0'});
 el(I,'polygon',{points:(x-6)+','+(y+8)+' '+(x+20)+','+(y-4)+' '+(x+20)+','+y+' '+(x-6)+','+(y+12),fill:'#2a7ae8'});}
function dev(x,y){el(I,'rect',{x:x-17,y:y-4,width:34,height:10,fill:'#1a72f0'});
 el(I,'polygon',{points:(x-16)+','+(y-15)+' '+x+','+(y-22)+' '+(x+16)+','+(y-15)+' '+x+','+(y-8),fill:'#5a6478'});
 el(I,'polygon',{points:(x-16)+','+(y-15)+' '+x+','+(y-8)+' '+x+','+(y+2)+' '+(x-16)+','+(y-5),fill:'#3a4458'});
 el(I,'polygon',{points:x+','+(y-8)+' '+(x+16)+','+(y-15)+' '+(x+16)+','+(y-5)+' '+x+','+(y+2),fill:'#2a3448'});
 el(I,'rect',{x:x-15,y:y+6,width:30,height:11,fill:'#2a3448'});el(I,'circle',{cx:x+8,cy:y+11,r:2,fill:'#30f080'});}
[[710,612],[872,612],[1197,612],[1358,612]].forEach(function(p){cloud(p[0],p[1]);});
[[1033,560],[1033,668],[1033,774],[1033,936]].forEach(function(p){server(p[0],p[1]);});
[[763,881],[763,989],[1303,881],[1303,989]].forEach(function(p){sw(p[0],p[1]);});
[709,839,968,1098,1227,1357].forEach(function(x){dev(x,1151);});
</script>
</body></html>
